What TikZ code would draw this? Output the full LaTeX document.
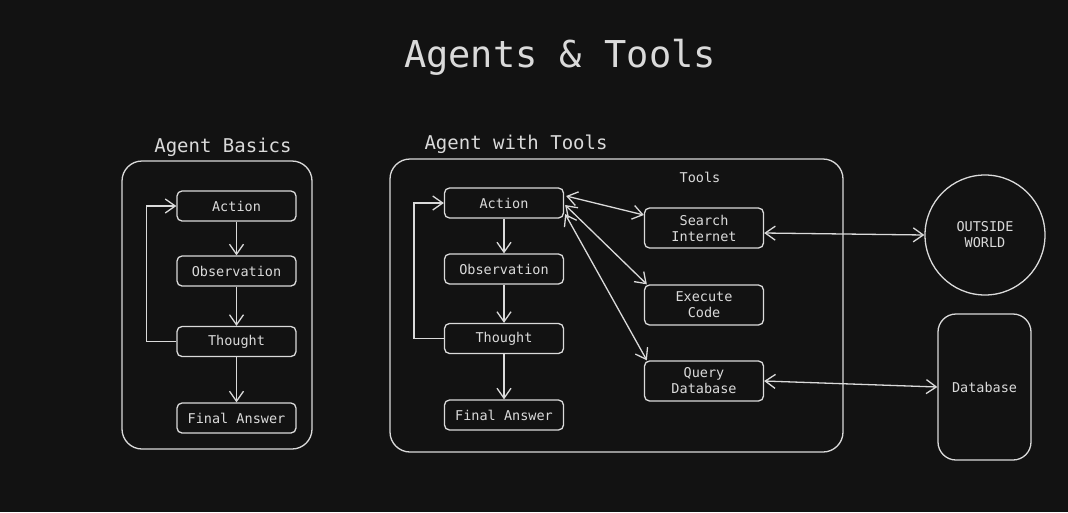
\documentclass[tikz,border=0pt]{standalone}
\usepackage{fontspec}
\setmonofont{DejaVu Sans Mono}
\usetikzlibrary{arrows.meta}
\definecolor{bg}{HTML}{121212}
\definecolor{ink}{HTML}{DADADA}

\begin{document}
\begin{tikzpicture}[
x=1pt, y=-1pt,
every node/.style={text=ink, font=\ttfamily\fontsize{13.5}{16}\selectfont},
box/.style={draw=ink,
line width=1.3pt,
rectangle,
rounded corners=5pt,
minimum width=119pt,
minimum height=30pt,
inner sep=0pt,
align=center},
toolbox/.style={box, minimum height=40pt},
frame/.style={draw=ink, line width=1.3pt, rounded corners=20pt},
heading/.style={font=\ttfamily\fontsize{19}{22}\selectfont},
arrow/.style={-{Straight Barb[length=10pt,width=14pt]}, draw=ink, line width=1.3pt},
twoway/.style={{Straight Barb[length=10pt,width=14pt]}-{Straight Barb[length=10pt,width=14pt]}, draw=ink, line width=1.3pt}
]

\fill[bg] (0,0) rectangle (1068,512);

\node[anchor=base, font=\ttfamily\fontsize{37}{40}\selectfont] (title) at (560,67) {Agents \& Tools};

% agent basics
\node[heading, anchor=base] (basicHead) at (223,152) {Agent Basics};
\draw[frame] (122,161) rectangle (312,449);

\node[box] (basicAction) at (236.5,206) {Action};
\node[box] (basicObs) at (236.5,271) {Observation};
\node[box] (basicThought) at (236.5,341.5) {Thought};
\node[box] (basicFinal) at (236.5,418) {Final Answer};

\draw[arrow] (basicAction) -- (basicObs);
\draw[arrow] (basicObs) -- (basicThought);
\draw[arrow] (basicThought) -- (basicFinal);
\draw[arrow] (basicThought.west) -- ++(-30,0) |- (basicAction.west);

% agent with tools
\node[heading, anchor=base west] (toolsHead) at (421,149) {Agent with Tools};
\draw[frame] (390,159) rectangle (843,452);
\node[anchor=base] (toolsLabel) at (700,182) {Tools};

\node[box] (toolsAction) at (504,203) {Action};
\node[box] (toolsObs) at (504,269) {Observation};
\node[box] (toolsThought) at (504,338.5) {Thought};
\node[box] (toolsFinal) at (504,415) {Final Answer};

\draw[arrow] (toolsAction) -- (toolsObs);
\draw[arrow] (toolsObs) -- (toolsThought);
\draw[arrow] (toolsThought) -- (toolsFinal);
\draw[arrow] (toolsThought.west) -- ++(-30,0) |- (toolsAction.west);

\node[toolbox] (search) at (704,228) {Search\\Internet};
\node[toolbox] (execute) at (704,305) {Execute\\Code};
\node[toolbox] (query) at (704,381) {Query\\Database};

\draw[twoway] ([shift={(2,-7)}]toolsAction.east) -- ([shift={(0,-13)}]search.west);
\draw[twoway] ([shift={(1,2)}]toolsAction.east) -- ([shift={(3,0)}]execute.north west);
\draw[twoway] ([shift={(1,11)}]toolsAction.east) -- ([shift={(3,0)}]query.north west);

% outside
\node[circle, draw=ink, line width=1.3pt, minimum size=120pt, inner sep=0pt, align=center] (world) at (985,235) {OUTSIDE\\WORLD};
\node[box, minimum width=93pt, minimum height=146pt, rounded corners=18pt] (database) at (984.5,387) {Database};

\draw[twoway] ([shift={(0,5)}]search.east) -- (world.west);
\draw[twoway] (query.east) -- (database.west);

\end{tikzpicture}
\end{document}
